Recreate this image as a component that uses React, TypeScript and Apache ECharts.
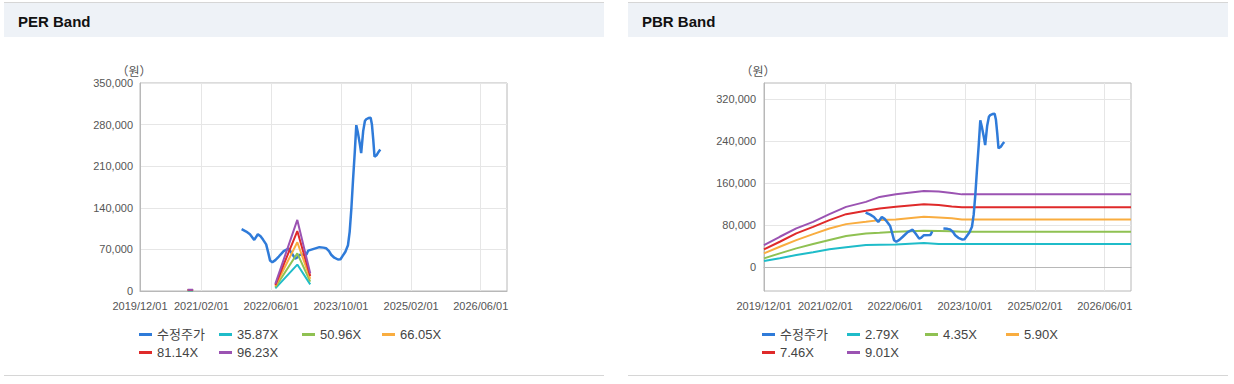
import React, { useEffect, useRef } from 'react';
import * as echarts from 'echarts';

// ---------- data ----------
const priceName = '수정주가';
const priceDates = [
  '2021-11-08', '2021-12-10', '2022-01-05', '2022-02-04', '2022-03-01', '2022-03-20',
  '2022-04-06', '2022-04-28', '2022-05-12', '2022-05-25', '2022-06-10', '2022-07-01',
  '2022-07-25', '2022-08-28', '2022-10-01', '2022-10-22', '2022-11-16', '2022-12-01',
  '2022-12-19', '2023-02-03', '2023-02-15', '2023-03-15', '2023-05-04', '2023-06-01',
  '2023-06-19', '2023-07-10', '2023-07-25', '2023-08-16', '2023-09-10', '2023-09-28',
  '2023-10-13', '2023-11-01', '2023-11-19', '2023-12-01', '2023-12-13', '2023-12-25',
  '2024-01-05', '2024-01-16', '2024-01-26', '2024-02-10', '2024-02-19', '2024-03-04',
  '2024-03-16', '2024-03-25', '2024-04-10', '2024-04-25', '2024-05-04', '2024-05-13',
  '2024-05-22', '2024-06-07', '2024-06-19', '2024-07-01',
];
const priceValues = [
  104000, 100000, 95500, 86000, 95500, 92000,
  86500, 78500, 65000, 51500, 48500, 52000,
  58000, 67000, 71500, 64000, 54500, 56500,
  61000, 61500, 68000, null, 73800, 73000,
  72000, 67000, 61000, 56000, 53000, 53500,
  59000, 66000, 77000, 100000, 140000, 190000,
  232000, 279000, 268000, 247000, 232000, 269000,
  286000, 289000, 291000, 291500, 280000, 255000,
  226000, 229000, 234000, 238000,
];

const perNames = ['35.87X', '50.96X', '66.05X', '81.14X', '96.23X'];
const perDates = ['2020-10-28', '2020-12-05', '2021-06-01', '2022-07-01', '2022-12-01', '2023-03-01'];
const per3587 = [830, 830, null, 4500, 44500, 11100];
const per5096 = [1170, 1170, null, 6400, 63300, 15800];
const per6605 = [1520, 1520, null, 8300, 82100, 20500];
const per8114 = [1870, 1870, null, 10100, 100800, 25200];
const per9623 = [2210, 2210, null, 12000, 119600, 29800];

const pbrNames = ['2.79X', '4.35X', '5.90X', '7.46X', '9.01X'];
const pbrDates = [
  '2019-12-01', '2020-03-20', '2020-07-13', '2020-11-07', '2021-03-01', '2021-06-25',
  '2021-11-10', '2022-02-13', '2022-06-07', '2022-12-19', '2023-04-01', '2023-07-01',
  '2023-09-10', '2026-12-01',
];
const pbr279 = [11900, 17000, 23300, 28400, 34100, 37900, 42200, 43000, 43500, 46000, 44100, 44100, 44100, 44100];
const pbr435 = [17000, 26500, 36000, 44100, 51700, 59300, 64400, 65500, 67400, 69300, 68800, 68300, 67400, 67400];
const pbr590 = [26500, 39000, 51700, 63100, 73800, 82000, 86300, 89600, 90900, 95800, 94500, 93000, 91000, 91000];
const pbr746 = [34100, 48500, 64400, 76900, 89600, 100900, 107200, 111700, 114800, 119900, 118500, 115500, 114000, 114000];
const pbr901 = [42200, 58000, 73800, 86300, 100900, 114800, 124200, 133700, 138800, 145000, 144000, 141000, 138500, 138500];

const xTickDates = ['2019-12-01', '2021-02-01', '2022-06-01', '2023-10-01', '2025-02-01', '2026-06-01'];
const xStart = '2019-12-01';
const xEnd = '2026-12-01';
const pbrYTicks = [0, 80000, 160000, 240000, 320000];
const unitLabel = '（원）';

// ---------- styling ----------
const priceColor = '#2f7bd9';
const bandColors = ['#1fbcc9', '#8fc152', '#f9ad40', '#df2a2a', '#9b53b2'];
const FONT = "'Liberation Sans', Arial, 'Noto Sans CJK KR', sans-serif";

const toTs = (s: string) => {
  const [y, m, d] = s.split('-').map(Number);
  return new Date(y, m - 1, d).getTime();
};
const pad = (n: number) => (n < 10 ? '0' + n : '' + n);
const fmtDate = (v: number) => {
  const d = new Date(v);
  return `${d.getFullYear()}/${pad(d.getMonth() + 1)}/${pad(d.getDate())}`;
};
const pairs = (dates: string[], values: (number | null)[]) =>
  dates.map((d, i) => [toTs(d), values[i] == null ? '-' : values[i]]);

function makeGrid(left: number) {
  return {
    left, top: 83, width: 367, height: 208,
    show: true, borderColor: '#b8b8b8', borderWidth: 1, backgroundColor: 'transparent',
  };
}

function makeXAxis(gridIndex: number) {
  const ticks = xTickDates.map(toTs);
  return {
    type: 'value', gridIndex,
    min: toTs(xStart), max: toTs(xEnd),
    axisLine: { show: true, lineStyle: { color: '#b8b8b8' } },
    axisTick: { show: false, customValues: ticks },
    splitLine: { show: true, lineStyle: { color: '#e6e6e6', width: 1 } },
    axisLabel: {
      customValues: ticks, formatter: (v: number) => fmtDate(v),
      color: '#555', fontSize: 11, fontFamily: FONT, margin: 9,
    },
  };
}

const numFmt = (v: number) => v.toLocaleString('en-US');

export default function App() {
  const ref = useRef<HTMLDivElement>(null);
  useEffect(() => {
    if (!ref.current) return;
    const chart = echarts.init(ref.current, null, { renderer: 'svg' });

    const legendSpecs = [
      { name: priceName, left: 139, top: 328 },
      { name: perNames[0], left: 219, top: 328 },
      { name: perNames[1], left: 302, top: 328 },
      { name: perNames[2], left: 382, top: 328 },
      { name: perNames[3], left: 139, top: 346 },
      { name: perNames[4], left: 219, top: 346 },
      { name: priceName, left: 762, top: 328 },
      { name: pbrNames[0], left: 847, top: 328 },
      { name: pbrNames[1], left: 925, top: 328 },
      { name: pbrNames[2], left: 1006, top: 328 },
      { name: pbrNames[3], left: 762, top: 346 },
      { name: pbrNames[4], left: 847, top: 346 },
    ];

    const perVals = [per3587, per5096, per6605, per8114, per9623];
    const pbrVals = [pbr279, pbr435, pbr590, pbr746, pbr901];
    const priceData = pairs(priceDates, priceValues);

    const series: any[] = [
      {
        name: priceName, type: 'line', xAxisIndex: 0, yAxisIndex: 0, z: 2,
        data: priceData, showSymbol: false, connectNulls: true,
        color: priceColor, lineStyle: { width: 2.5, color: priceColor },
      },
      ...perNames.map((n, i) => ({
        name: n, type: 'line', xAxisIndex: 0, yAxisIndex: 0, z: 3,
        data: pairs(perDates, perVals[i]), showSymbol: false,
        color: bandColors[i], lineStyle: { width: 2, color: bandColors[i] },
      })),
      ...pbrNames.map((n, i) => ({
        name: n, type: 'line', xAxisIndex: 1, yAxisIndex: 1, z: 2,
        data: pairs(pbrDates, pbrVals[i]), showSymbol: false,
        color: bandColors[i], lineStyle: { width: 2, color: bandColors[i] },
      })),
      {
        name: priceName, type: 'line', xAxisIndex: 1, yAxisIndex: 1, z: 4,
        data: priceData, showSymbol: false, connectNulls: false,
        color: priceColor, lineStyle: { width: 2.5, color: priceColor },
      },
    ];

    const panel = (x: number, title: string) => [
      { type: 'rect', shape: { x, y: 3, width: 600, height: 34 }, style: { fill: '#eef2f7' }, z: -10 },
      { type: 'line', shape: { x1: x, y1: 2.5, x2: x + 600, y2: 2.5 }, style: { stroke: '#d6d6d6', lineWidth: 1 }, z: -10 },
      { type: 'line', shape: { x1: x, y1: 375.5, x2: x + 600, y2: 375.5 }, style: { stroke: '#d6d6d6', lineWidth: 1 }, z: -10 },
      {
        type: 'text', x: x + 14, y: 21, z: 10,
        style: { text: title, fill: '#111', font: `bold 15px ${FONT}`, verticalAlign: 'middle', align: 'left' },
      },
    ];

    const yName = (extra: any) => ({
      name: unitLabel, nameLocation: 'end', nameGap: 7,
      nameTextStyle: {
        color: '#555', fontSize: 12, fontFamily: "'Noto Sans CJK KR', sans-serif",
        align: 'center', padding: [0, 12, 0, 0],
      },
      ...extra,
    });

    chart.setOption({
      animation: false,
      backgroundColor: '#ffffff',
      textStyle: { fontFamily: FONT },
      graphic: [...panel(4, 'PER Band'), ...panel(628, 'PBR Band')],
      grid: [makeGrid(140), makeGrid(764)],
      xAxis: [makeXAxis(0), makeXAxis(1)],
      yAxis: [
        yName({
          type: 'value', gridIndex: 0, min: 0, max: 350000, interval: 70000,
          axisLine: { show: true, lineStyle: { color: '#b8b8b8' } },
          axisTick: { show: false },
          splitLine: { show: true, lineStyle: { color: '#e6e6e6' } },
          axisLabel: { formatter: numFmt, color: '#555', fontSize: 11, fontFamily: FONT, margin: 7 },
        }),
        yName({
          type: 'value', gridIndex: 1, min: -45000, max: 350000,
          axisLine: { show: true, lineStyle: { color: '#b8b8b8' } },
          axisTick: { show: false, customValues: pbrYTicks },
          splitLine: { show: true, lineStyle: { color: '#e6e6e6' } },
          axisLabel: { customValues: pbrYTicks, formatter: numFmt, color: '#555', fontSize: 11, fontFamily: FONT, margin: 8 },
        }),
      ],
      legend: legendSpecs.map((l) => ({
        data: [l.name], left: l.left, top: l.top, padding: 0, itemGap: 0,
        icon: 'rect', itemWidth: 13, itemHeight: 3, selectedMode: false,
        textStyle: { fontSize: 13, color: '#444', fontFamily: FONT },
      })),
      series,
    });
    return () => chart.dispose();
  }, []);
  return (
    <div
      ref={ref}
      style={{ position: 'fixed', left: 0, top: 0, width: 1234, height: 384, background: '#fff' }}
    />
  );
}
